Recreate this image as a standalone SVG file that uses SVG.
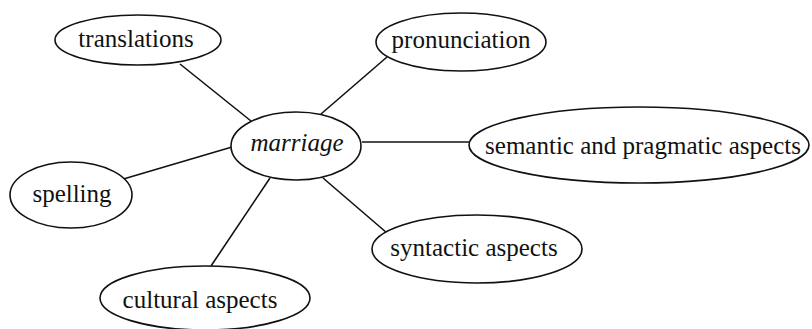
<svg xmlns="http://www.w3.org/2000/svg" width="812" height="329" viewBox="0 0 812 329">
<style>
.n{fill:#fff;stroke:#111;stroke-width:1.6}
.c line{stroke:#111;stroke-width:1.6}
text{font-family:"Liberation Serif","Times New Roman",serif;font-size:25px;fill:#111;text-anchor:middle}
</style>
<rect width="812" height="329" fill="#fff"/>
<g class="c" id="connectors">
<line x1="180" y1="64" x2="251" y2="121"/>
<line x1="387" y1="57" x2="321" y2="114"/>
<line x1="362" y1="142" x2="470" y2="142"/>
<line x1="120" y1="180" x2="232" y2="147"/>
<line x1="211" y1="266" x2="270" y2="178"/>
<line x1="323" y1="178" x2="387" y2="233"/>
</g>
<g id="marriage"><ellipse class="n" cx="296" cy="146" rx="65" ry="34"/><text x="297" y="151" font-style="italic">marriage</text></g>
<g id="translations"><ellipse class="n" cx="138" cy="40" rx="83" ry="25"/><text x="136" y="47">translations</text></g>
<g id="pronunciation"><ellipse class="n" cx="461" cy="42" rx="85" ry="29"/><text x="461" y="48">pronunciation</text></g>
<g id="semantic"><ellipse class="n" cx="639" cy="145" rx="170" ry="38"/><text x="643" y="154">semantic and pragmatic aspects</text></g>
<g id="spelling"><ellipse class="n" cx="71" cy="195" rx="61" ry="33"/><text x="72" y="202">spelling</text></g>
<g id="cultural"><ellipse class="n" cx="205" cy="298" rx="105" ry="32"/><text x="200" y="308">cultural aspects</text></g>
<g id="syntactic"><ellipse class="n" cx="477" cy="249" rx="105" ry="34"/><text x="474" y="256">syntactic aspects</text></g>
</svg>
